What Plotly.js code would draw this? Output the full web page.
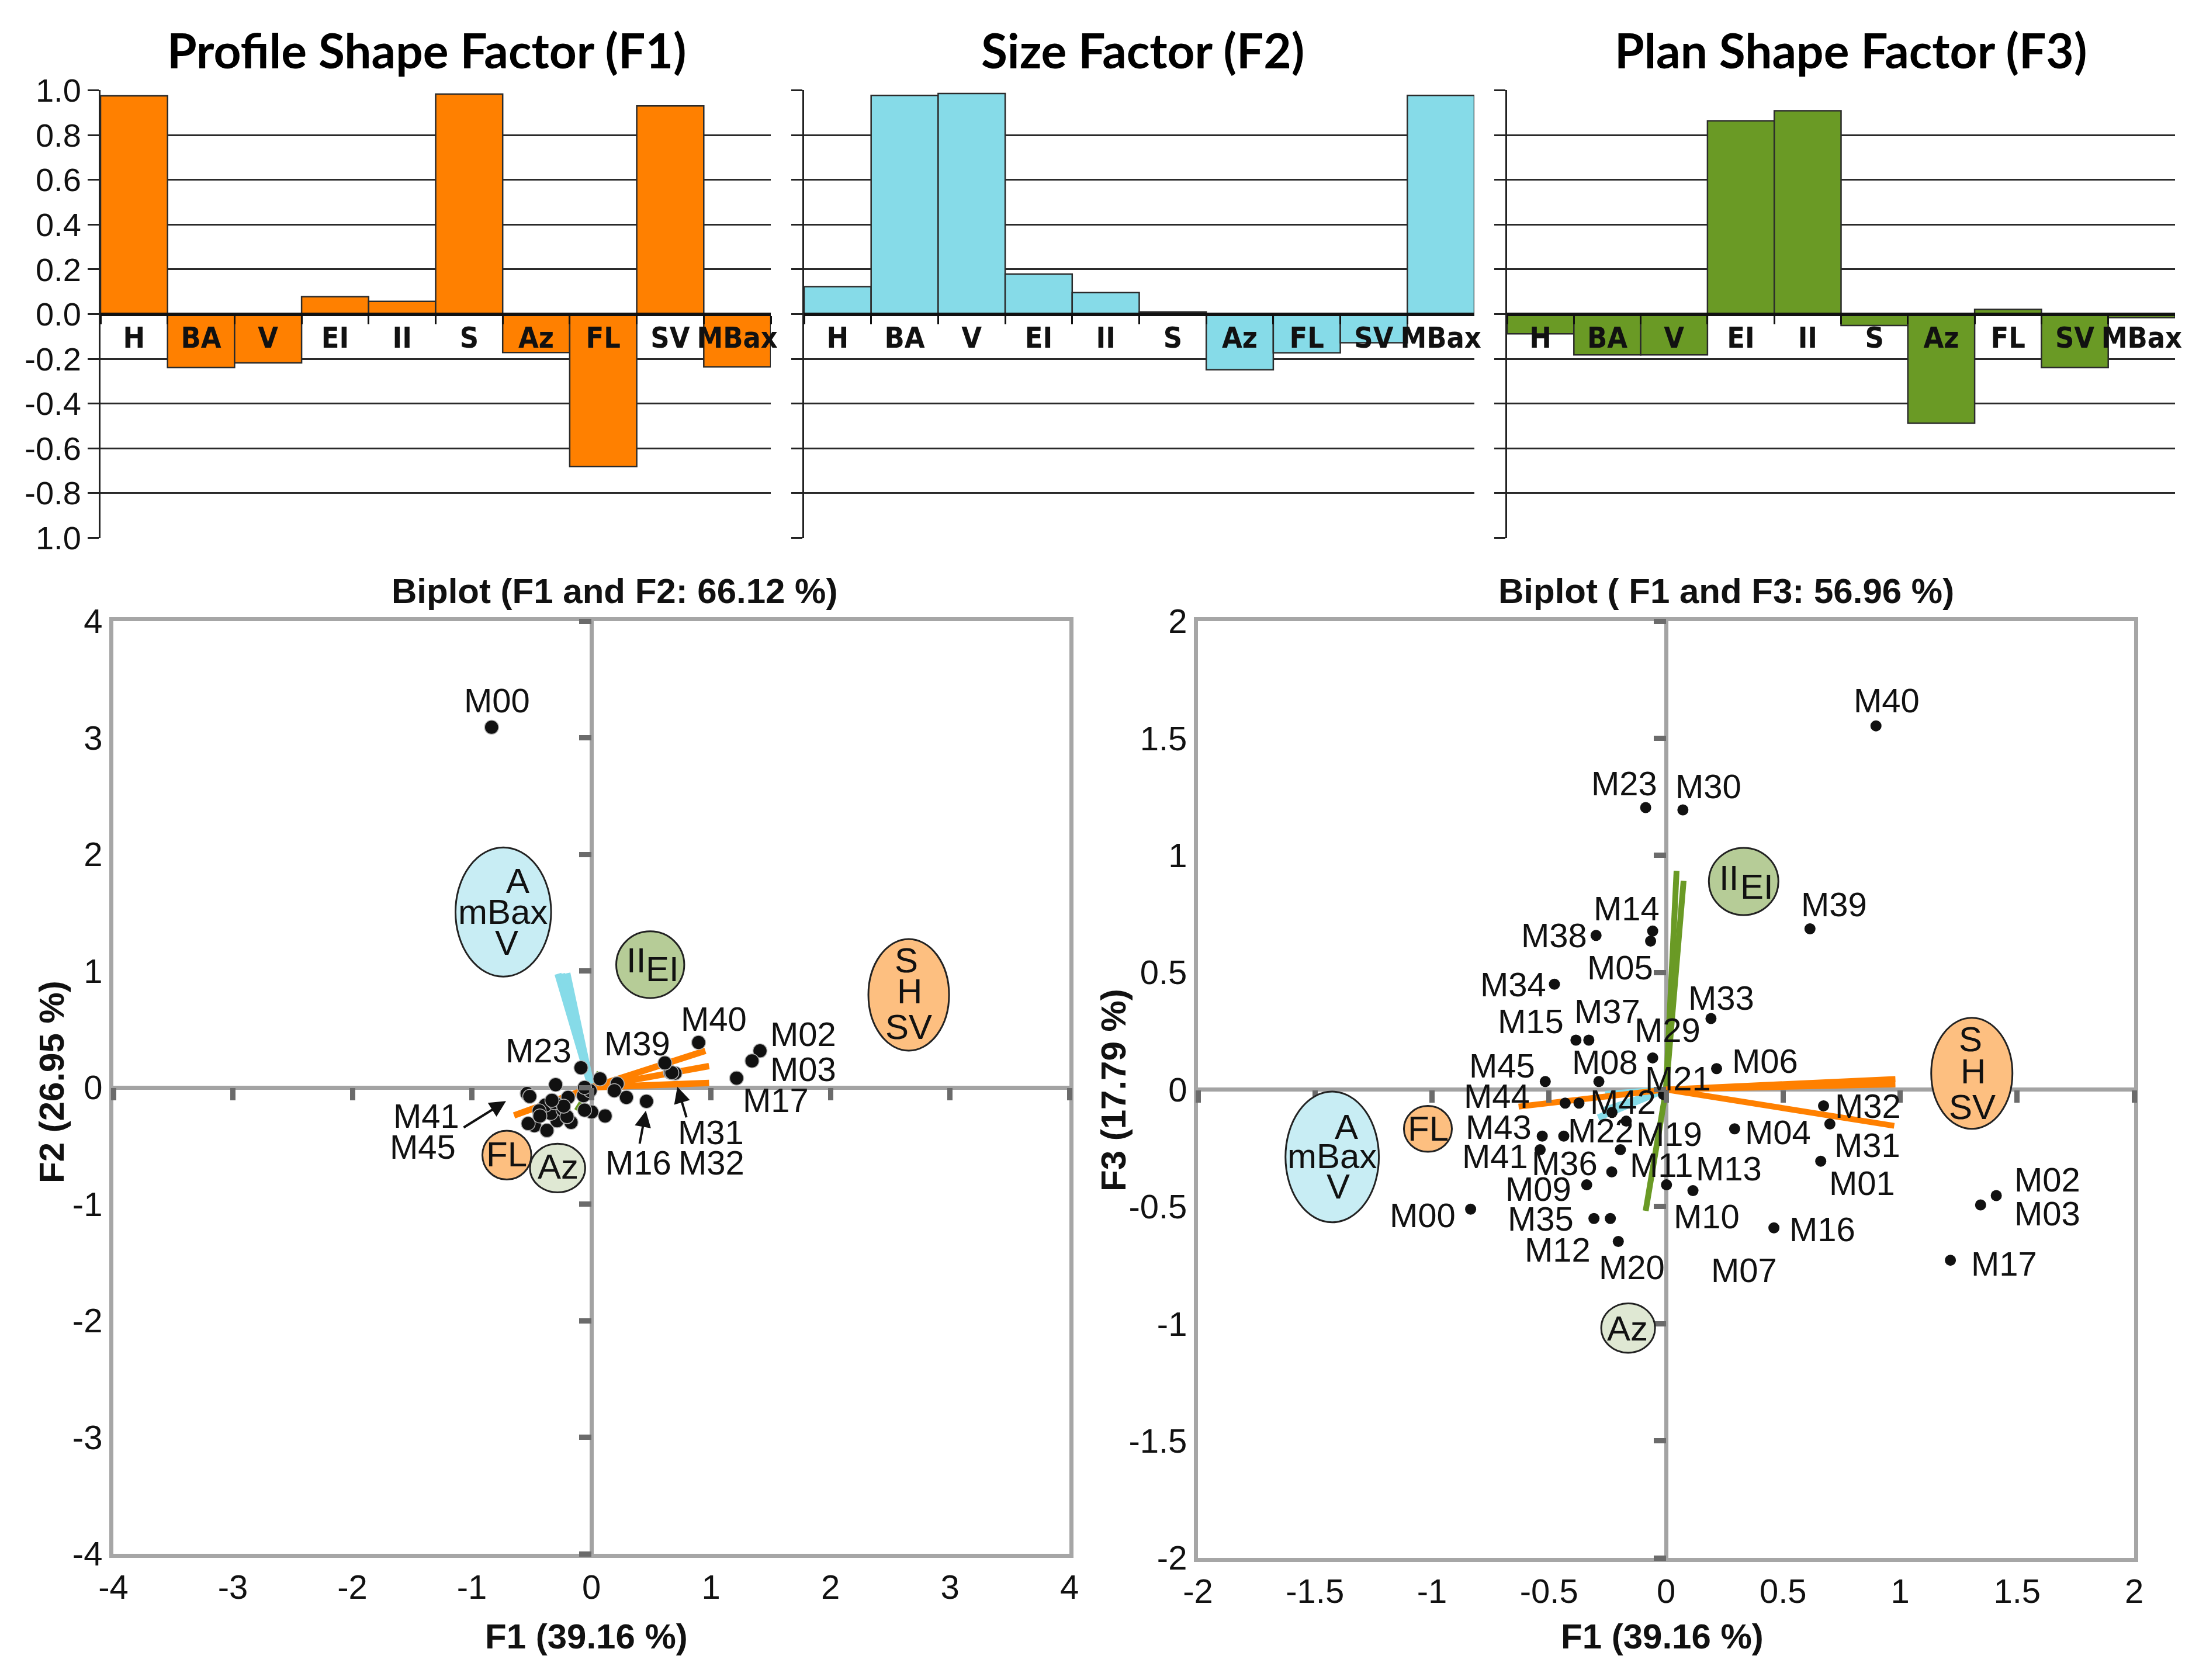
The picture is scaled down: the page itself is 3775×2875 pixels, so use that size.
<!DOCTYPE html>
<html><head><meta charset="utf-8">
<script src="https://cdn.plot.ly/plotly-3.0.1.min.js"></script>
<style>html,body{margin:0;padding:0;background:#fff}#chart{width:3775px;height:2875px}</style>
</head><body><div id="chart"></div>
<script>
// ---------- DATA ----------
const variables = ['H','BA','V','EI','II','S','Az','FL','SV','MBax'];
const loadF1 = [0.976,-0.239,-0.218,0.078,0.057,0.984,-0.172,-0.681,0.931,-0.236];
const loadF2 = [0.123,0.978,0.986,0.179,0.096,0.010,-0.249,-0.173,-0.128,0.978];
const loadF3 = [-0.088,-0.182,-0.182,0.864,0.909,-0.051,-0.488,0.021,-0.239,-0.016];
const barTitles = ['Profile Shape Factor (F1)','Size Factor (F2)','Plan Shape Factor (F3)'];
const barTickVals = [-1,-0.8,-0.6,-0.4,-0.2,0,0.2,0.4,0.6,0.8,1];
const barTickText = ['1.0','-0.8','-0.6','-0.4','-0.2','0.0','0.2','0.4','0.6','0.8','1.0'];

const obsNames = ['M00','M01','M02','M03','M04','M05','M06','M07','M08','M09','M10','M11','M12','M13','M14','M15','M16','M17','M19','M20','M21','M22','M23','M29','M30','M31','M32','M33','M34','M35','M36','M37','M38','M39','M40','M41','M42','M43','M44','M45'];
const obsF1 = [-0.835,0.661,1.411,1.344,0.293,-0.066,0.216,-0.231,-0.287,-0.339,0.002,-0.195,-0.238,0.115,-0.057,-0.385,0.461,1.215,-0.170,-0.204,-0.011,-0.437,-0.087,-0.057,0.072,0.700,0.673,0.192,-0.477,-0.308,-0.232,-0.330,-0.299,0.615,0.897,-0.538,-0.372,-0.529,-0.431,-0.516];
const obsF2 = [3.09,0.13,0.314,0.228,-0.085,-0.07,0.032,-0.21,-0.286,-0.222,-0.21,-0.085,-0.19,-0.244,-0.194,-0.152,-0.119,0.08,-0.30,-0.25,-0.027,-0.20,0.169,0.0,0.074,0.122,0.127,-0.027,-0.327,-0.13,-0.16,-0.11,0.024,0.21,0.386,-0.052,-0.369,-0.31,-0.244,-0.077];
const obsF3 = [-0.511,-0.306,-0.453,-0.493,-0.168,0.634,0.089,-0.098,0.034,-0.407,-0.407,-0.257,-0.551,-0.432,0.677,0.211,-0.591,-0.729,-0.135,-0.649,-0.021,-0.199,1.204,0.135,1.194,-0.147,-0.070,0.303,0.450,-0.551,-0.352,0.211,0.658,0.686,1.553,-0.257,-0.058,-0.199,-0.058,0.034];

// variable vectors as drawn in the biplots
const orangeVars = ['H','S','SV','FL'];
const orangeF1_12 = [0.954,0.985,0.985,-0.647];
const orangeF2_12 = [0.315,0.184,0.039,-0.24];
const cyanVars = ['BA','V','MBax'];
const cyanF1_12 = [-0.28,-0.205,-0.25];
const cyanF2_12 = [0.975,0.98,0.975];
const greenVars = ['EI','II','Az'];
const greenF1_12 = [0.07,0.06,-0.12];
const greenF2_12 = [0.13,0.09,-0.2];
const orangeF1_13 = [0.98,0.98,0.975,-0.63];
const orangeF3_13 = [0.045,0.022,-0.155,-0.073];
const cyanF1_13 = [-0.29,-0.27,-0.26];
const cyanF3_13 = [-0.12,-0.09,-0.02];
const greenF1_13 = [0.045,0.075,-0.087];
const greenF3_13 = [0.934,0.891,-0.518];

const biTicks12 = [-4,-3,-2,-1,0,1,2,3,4];
const biTickText12 = ['-4','-3','-2','-1','0','1','2','3','4'];
const biTicks13 = [-2,-1.5,-1,-0.5,0,0.5,1,1.5,2];
const biTickText13 = ['-2','-1.5','-1','-0.5','0','0.5','1','1.5','2'];

// ---------- STYLE / PLACEMENT ----------
const W = 3775, H = 2875;
const px = v => v / W, py = v => 1 - v / H;
const FONT = 'Liberation Sans, Arial, sans-serif';
const NARROW = 'Liberation Sans Narrow, Arial Narrow, DejaVu Sans Condensed, sans-serif';
const ORANGE = '#ff8000', CYAN = '#86dbe8', GREEN = '#6a9a25';
const barColors = [ORANGE, CYAN, GREEN];
const barDomX = [[172,1319],[1376,2523],[2579,3722]];
const barDomY = [py(921), py(154)];
const barTitleX = [730,1956,3167];

const L_DX = [px(194), px(1830)], L_DY = [py(2659), py(1063)];
const R_DX = [px(2050), px(3652)], R_DY = [py(2666), py(1063)];

const C_CYAN = '#c8edf4', C_ORANGE = '#fdbf80', C_GREEN = '#b6cc97', C_AZ = '#dfe8d3';
const badges12 = [
  {fill:C_CYAN, box:[-1.137,-0.337,0.951,2.059], texts:[['A',-0.616,1.77],['mBax',-0.74,1.505],['V',-0.71,1.24]]},
  {fill:C_GREEN, box:[0.208,0.777,0.767,1.339], texts:[['II',0.374,1.088],['EI',0.594,1.013]]},
  {fill:C_ORANGE, box:[2.318,2.993,0.316,1.273], texts:[['S',2.636,1.088],['H',2.665,0.827],['SV',2.655,0.521]]},
  {fill:C_ORANGE, box:[-0.912,-0.503,-0.79,-0.371], texts:[['FL',-0.71,-0.575]]},
  {fill:C_AZ, box:[-0.514,-0.052,-0.9,-0.483], texts:[['Az',-0.278,-0.679]]}
];
const badges13 = [
  {fill:C_CYAN, box:[-1.626,-1.227,-0.567,-0.009], texts:[['A',-1.366,-0.159],['mBax',-1.426,-0.285],['V',-1.402,-0.413]]},
  {fill:C_ORANGE, box:[-1.12,-0.915,-0.266,-0.07], texts:[['FL',-1.016,-0.168]]},
  {fill:C_GREEN, box:[0.183,0.48,0.745,1.032], texts:[['II',0.269,0.904],['EI',0.388,0.867]]},
  {fill:C_ORANGE, box:[1.133,1.48,-0.168,0.306], texts:[['S',1.302,0.215],['H',1.313,0.077],['SV',1.308,-0.076]]},
  {fill:C_AZ, box:[-0.277,-0.047,-1.124,-0.913], texts:[['Az',-0.164,-1.02]]}
];

// label offsets in px from each point (dx right, dy up)
const labels12 = {M00:[9,46],M23:[-73,30],M39:[-47,34],M40:[26,40],M02:[74,29],M03:[88,-14],M17:[67,-37],
  M16:[-14,-105],M31:[61,-101],M32:[68,-154],M41:[-172,-38],M45:[-183,-86]};
const arrows12 = [{name:'M16',head:[-1,-16],tail:[-11,58]},{name:'M31',head:[4,-23],tail:[16,54]},{name:'M41',head:[-36,-13],tail:[-74,46]}];
const labels13 = {M40:[18,44],M23:[-37,42],M30:[44,41],M39:[41,42],M14:[-45,39],M38:[-72,0],M05:[-52,-45],M34:[-70,0],
  M33:[18,36],M15:[-77,32],M37:[32,49],M29:[25,48],M06:[83,13],M45:[-74,27],M08:[10,33],M21:[25,27],M44:[-117,12],
  M42:[75,2],M07:[226,-270],M19:[74,-22],M32:[76,0],M31:[64,-36],M04:[74,-6],M43:[-75,16],M22:[64,10],M41:[-77,-11],
  M11:[71,-26],M01:[71,-37],M36:[-81,15],M09:[-83,-7],M10:[69,-54],M13:[61,38],M00:[-82,-10],M02:[87,28],M03:[114,-14],
  M35:[-91,0],M12:[-90,-53],M16:[83,-2],M20:[23,-44],M17:[92,-6]};

// ---------- BUILD ----------
const traces = [];
const layout = {width:W, height:H, margin:{l:0,r:0,t:0,b:0}, paper_bgcolor:'#fff', plot_bgcolor:'rgba(0,0,0,0)',
  showlegend:false, bargap:0, hovermode:false, annotations:[], shapes:[]};

barColors.forEach((col, i) => {
  const n = i === 0 ? '' : String(i + 1);
  const vals = [loadF1, loadF2, loadF3][i];
  traces.push({type:'bar', x:variables, y:vals, xaxis:'x'+n, yaxis:'y'+n, width:1,
    marker:{color:col, line:{color:'#2b2b2b', width:2.5}}, hoverinfo:'skip'});
  layout['xaxis'+n] = {domain:[px(barDomX[i][0]), px(barDomX[i][1])], type:'category', range:[-0.5,9.5],
    anchor:'free', position:(barDomY[0]+barDomY[1])/2, showline:true, linecolor:'#111', linewidth:6,
    ticks:'outside', tickson:'boundaries', ticklen:14, tickwidth:3, tickcolor:'#111', tickangle:0,
    ticklabelstandoff:-6,
    tickfont:{family:NARROW, size:50, color:'#111', weight:'bold'}, showgrid:false, zeroline:false};
  layout['yaxis'+n] = {domain:barDomY, range:[-1.002,1.002], anchor:'x'+n, tickvals:barTickVals, ticktext:barTickText,
    showticklabels:i===0, ticks:'outside', ticklen:19, tickwidth:3, tickcolor:'#222', showline:true, linewidth:3,
    linecolor:'#222', showgrid:true, gridcolor:'#2a2a2a', gridwidth:3, zeroline:false,
    tickfont:{family:FONT, size:56, color:'#111'}};
  layout.annotations.push({xref:'paper', yref:'paper', x:px(barTitleX[i]), y:py(85), xanchor:'center', yanchor:'middle',
    text:barTitles[i], showarrow:false, font:{family:'Lato, Open Sans, sans-serif', size:82, color:'#000', weight:'bold'}});
});

function vecTrace(xs, ys, color, width, xa, ya) {
  const X = [], Y = [];
  xs.forEach((v, k) => { X.push(0, v, null); Y.push(0, ys[k], null); });
  return {type:'scatter', mode:'lines', x:X, y:Y, xaxis:xa, yaxis:ya, line:{color, width}, hoverinfo:'skip'};
}

function biplot(cfg) {
  const {xa, ya, xt, yt, dx, dy, range, ticks, tickText, xs, ys, vecs, dotSize, dotLine, title, titleX,
    xTitle, xTitlePos, yTitle, yTitlePos, badges, labels, arrows} = cfg;
  vecs.forEach(v => traces.push(vecTrace(v[0], v[1], v[2], v[3], xa, ya)));
  traces.push({type:'scatter', mode:'markers', x:xs, y:ys, xaxis:xa, yaxis:ya, hoverinfo:'skip',
    marker:{size:dotSize, color:'#111', line:dotLine}});
  // invisible traces carrying the centre tick axes
  traces.push({type:'scatter', mode:'markers', x:xs, y:ys, xaxis:xt, yaxis:ya, marker:{opacity:0}, hoverinfo:'skip'});
  traces.push({type:'scatter', mode:'markers', x:xs, y:ys, xaxis:xa, yaxis:yt, marker:{opacity:0}, hoverinfo:'skip'});
  const base = {range, tickvals:ticks, ticktext:tickText, ticks:'',
    showline:true, mirror:true, linecolor:'#a6a6a6', linewidth:7, showgrid:false, zeroline:true,
    zerolinecolor:'#a3a3a3', zerolinewidth:7, tickfont:{family:FONT, size:58, color:'#111'}};
  layout['xaxis'+xa.slice(1)] = Object.assign({}, base, {domain:dx, anchor:ya});
  layout['yaxis'+ya.slice(1)] = Object.assign({}, base, {domain:dy, anchor:xa});
  const tk = {range, tickvals:ticks, ticks:'outside', ticklen:21, tickwidth:9, tickcolor:'#6b6b6b',
    showticklabels:false, showline:false, showgrid:false, zeroline:false};
  layout['xaxis'+xt.slice(1)] = Object.assign({}, tk, {overlaying:xa, anchor:'free', position:(dy[0]+dy[1])/2, side:'bottom'});
  layout['yaxis'+yt.slice(1)] = Object.assign({}, tk, {overlaying:ya, anchor:'free', position:(dx[0]+dx[1])/2, side:'left'});
  const tfont = {family:FONT, size:60, color:'#111', weight:'bold'};
  layout.annotations.push({xref:'paper', yref:'paper', x:px(titleX), y:py(1012), xanchor:'center', yanchor:'middle',
    text:title, showarrow:false, font:tfont});
  layout.annotations.push({xref:'paper', yref:'paper', x:px(xTitlePos[0]), y:py(xTitlePos[1]), xanchor:'center', yanchor:'middle',
    text:xTitle, showarrow:false, font:tfont});
  layout.annotations.push({xref:'paper', yref:'paper', x:px(yTitlePos[0]), y:py(yTitlePos[1]), xanchor:'center', yanchor:'middle',
    text:yTitle, textangle:-90, showarrow:false, font:tfont});
  badges.forEach(b => {
    layout.shapes.push({type:'circle', xref:xa, yref:ya, x0:b.box[0], x1:b.box[1], y0:b.box[2], y1:b.box[3],
      fillcolor:b.fill, line:{color:'#222', width:3}, layer:'above'});
    b.texts.forEach(t => layout.annotations.push({xref:xa, yref:ya, x:t[1], y:t[2], text:t[0], showarrow:false,
      xanchor:'center', yanchor:'middle', font:{family:FONT, size:60, color:'#111'}}));
  });
  obsNames.forEach((nm, k) => {
    if (!labels[nm]) return;
    layout.annotations.push({xref:xa, yref:ya, x:xs[k], y:ys[k], xshift:labels[nm][0], yshift:labels[nm][1],
      text:nm, showarrow:false, xanchor:'center', yanchor:'middle', font:{family:FONT, size:58, color:'#111'}});
  });
  arrows.forEach(a => {
    const k = obsNames.indexOf(a.name);
    layout.annotations.push({xref:xa, yref:ya, x:xs[k], y:ys[k], xshift:a.head[0], yshift:a.head[1],
      ax:a.tail[0], ay:a.tail[1], text:'', showarrow:true, arrowhead:2, arrowsize:1.4, arrowwidth:4, arrowcolor:'#111'});
  });
}

biplot({xa:'x4', ya:'y4', xt:'x5', yt:'y5', dx:L_DX, dy:L_DY, range:[-4,4], ticks:biTicks12, tickText:biTickText12,
  xs:obsF1, ys:obsF2,
  vecs:[[greenF1_12, greenF2_12, GREEN, 11],[cyanF1_12, cyanF2_12, CYAN, 12],[orangeF1_12, orangeF2_12, ORANGE, 11]],
  dotSize:24, dotLine:{color:'#b5b5b5', width:1.5}, title:'Biplot (F1 and F2: 66.12 %)', titleX:1051,
  xTitle:'F1 (39.16 %)', xTitlePos:[1003,2800], yTitle:'F2 (26.95 %)', yTitlePos:[88,1852],
  badges:badges12, labels:labels12, arrows:arrows12});

biplot({xa:'x6', ya:'y6', xt:'x7', yt:'y7', dx:R_DX, dy:R_DY, range:[-2,2], ticks:biTicks13, tickText:biTickText13,
  xs:obsF1, ys:obsF3,
  vecs:[[cyanF1_13, cyanF3_13, CYAN, 11],[greenF1_13, greenF3_13, GREEN, 10],[orangeF1_13, orangeF3_13, ORANGE, 10]],
  dotSize:19, dotLine:{color:'#111', width:0}, title:'Biplot ( F1 and F3: 56.96 %)', titleX:2954,
  xTitle:'F1 (39.16 %)', xTitlePos:[2844,2800], yTitle:'F3 (17.79 %)', yTitlePos:[1905,1865],
  badges:badges13, labels:labels13, arrows:[]});

Plotly.newPlot('chart', traces, layout, {staticPlot:true, displayModeBar:false});
</script>
</body></html>
